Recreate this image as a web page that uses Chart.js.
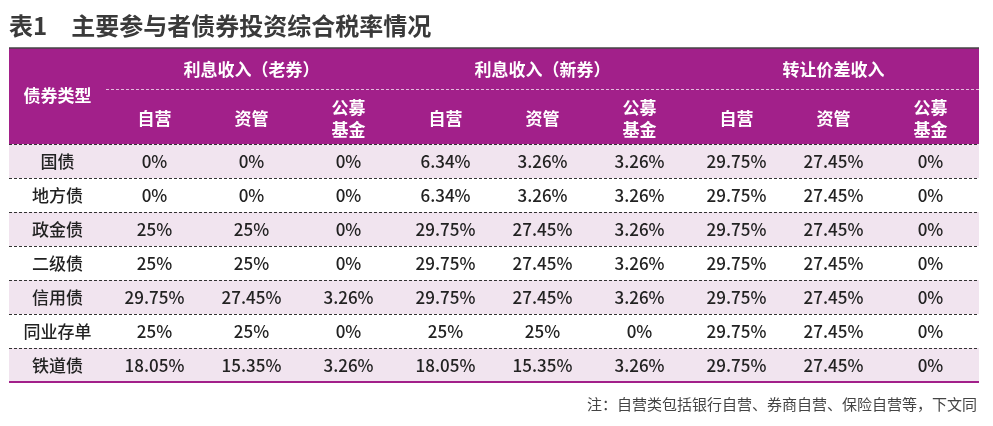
<!DOCTYPE html>
<html><head><meta charset="utf-8">
<script src="https://cdn.jsdelivr.net/npm/chart.js@4"></script>
<style>html,body{margin:0;padding:0;background:#fff}#c{display:block}</style>
</head><body>
<canvas id="c" width="993" height="426"></canvas>
<script>
const title = "表1　主要参与者债券投资综合税率情况";
const note = "注：自营类包括银行自营、券商自营、保险自营等，下文同";
const firstHeader = "债券类型";
const groups = ["利息收入（老券）", "利息收入（新券）", "转让价差收入"];
const subCols = ["自营", "资管", "公募\n基金"];
const categories = ["国债", "地方债", "政金债", "二级债", "信用债", "同业存单", "铁道债"];
const oldZY = ["0%", "0%", "25%", "25%", "29.75%", "25%", "18.05%"];
const oldZG = ["0%", "0%", "25%", "25%", "27.45%", "25%", "15.35%"];
const oldGM = ["0%", "0%", "0%", "0%", "3.26%", "0%", "3.26%"];
const newZY = ["6.34%", "6.34%", "29.75%", "29.75%", "29.75%", "25%", "18.05%"];
const newZG = ["3.26%", "3.26%", "27.45%", "27.45%", "27.45%", "25%", "15.35%"];
const newGM = ["3.26%", "3.26%", "3.26%", "3.26%", "3.26%", "0%", "3.26%"];
const trZY = ["29.75%", "29.75%", "29.75%", "29.75%", "29.75%", "29.75%", "29.75%"];
const trZG = ["27.45%", "27.45%", "27.45%", "27.45%", "27.45%", "27.45%", "27.45%"];
const trGM = ["0%", "0%", "0%", "0%", "0%", "0%", "0%"];
const columns = [oldZY, oldZG, oldGM, newZY, newZG, newGM, trZY, trZG, trGM];

const HEAD = 96 / 34; // header height in row units
const PURPLE = "#a2208a", PINK = "#f1e4ef";
const FONT = '"Noto Sans CJK SC", "Noto Sans", sans-serif';

const tablePlugin = {
  id: 'table',
  beforeDatasetsDraw(chart) {
    const ctx = chart.ctx, x = chart.scales.x, y = chart.scales.y;
    const X = v => x.getPixelForValue(v), Y = v => y.getPixelForValue(v);
    ctx.save();
    // header
    ctx.fillStyle = PURPLE;
    ctx.fillRect(X(0), Y(0), X(10) - X(0), Y(HEAD) - Y(0));
    // rows
    categories.forEach((c, i) => {
      if (i % 2 === 0) {
        ctx.fillStyle = PINK;
        ctx.fillRect(X(0), Y(HEAD + i), X(10) - X(0), Y(HEAD + i + 1) - Y(HEAD + i));
      }
    });
    // dashed separators
    ctx.setLineDash([3, 2]); ctx.lineWidth = 1; ctx.strokeStyle = "#333";
    for (let i = 0; i < categories.length; i++) {
      const yy = Math.round(Y(HEAD + i)) + 0.5;
      ctx.beginPath(); ctx.moveTo(X(0), yy); ctx.lineTo(X(10), yy); ctx.stroke();
    }
    ctx.strokeStyle = "rgba(255,255,255,0.7)";
    const ym = Math.round(Y(HEAD / 2 * 0.86)) + 0.5;
    ctx.beginPath(); ctx.moveTo(X(1), ym); ctx.lineTo(X(10), ym); ctx.stroke();
    ctx.setLineDash([]);
    ctx.strokeStyle = "#444"; ctx.lineWidth = 1.5;
    ctx.beginPath(); ctx.moveTo(X(0), Y(0)); ctx.lineTo(X(10), Y(0)); ctx.stroke();
    ctx.strokeStyle = PURPLE; ctx.lineWidth = 2;
    const yb = Y(HEAD + categories.length);
    ctx.beginPath(); ctx.moveTo(X(0), yb); ctx.lineTo(X(10), yb); ctx.stroke();

    // header text
    ctx.textAlign = "center"; ctx.textBaseline = "middle";
    ctx.fillStyle = "#fff"; ctx.font = "bold 17px " + FONT;
    ctx.fillText(firstHeader, X(0.5), Y(HEAD / 2) );
    groups.forEach((g, i) => ctx.fillText(g, X(1 + i * 3 + 1.5), Y(HEAD * 0.22)));
    for (let g = 0; g < 3; g++) {
      subCols.forEach((s, j) => {
        const lines = s.split("\n"), cx = X(1 + g * 3 + j + 0.5), cy = Y(HEAD * 0.73);
        lines.forEach((l, k) => ctx.fillText(l, cx, cy + (k - (lines.length - 1) / 2) * 22));
      });
    }
    // body text
    ctx.fillStyle = "#222"; ctx.font = "500 17px " + FONT;
    categories.forEach((c, i) => {
      const cy = Y(HEAD + i + 0.5) + 1;
      ctx.fillText(c, X(0.5), cy);
      columns.forEach((col, j) => ctx.fillText(col[i], X(1 + j + 0.5), cy));
    });
    // title & note
    ctx.textAlign = "left"; ctx.fillStyle = "#3a3a3a"; ctx.font = "bold 24px " + FONT;
    ctx.fillText(title, 9, 26);
    ctx.textAlign = "right"; ctx.fillStyle = "#444"; ctx.font = "15px " + FONT;
    ctx.fillText(note, 977, 404);
    ctx.restore();
  }
};

new Chart(document.getElementById("c"), {
  type: "scatter",
  data: { datasets: [{ data: [], pointRadius: 0 }] },
  options: {
    responsive: false, animation: false, events: [],
    layout: { padding: { left: 9, right: 14, top: 48, bottom: 44 } },
    plugins: { legend: { display: false }, tooltip: { enabled: false } },
    scales: {
      x: { type: "linear", min: 0, max: 10, display: false },
      y: { type: "linear", min: 0, max: HEAD + categories.length, reverse: true, display: false }
    }
  },
  plugins: [tablePlugin]
});
</script>
</body></html>
